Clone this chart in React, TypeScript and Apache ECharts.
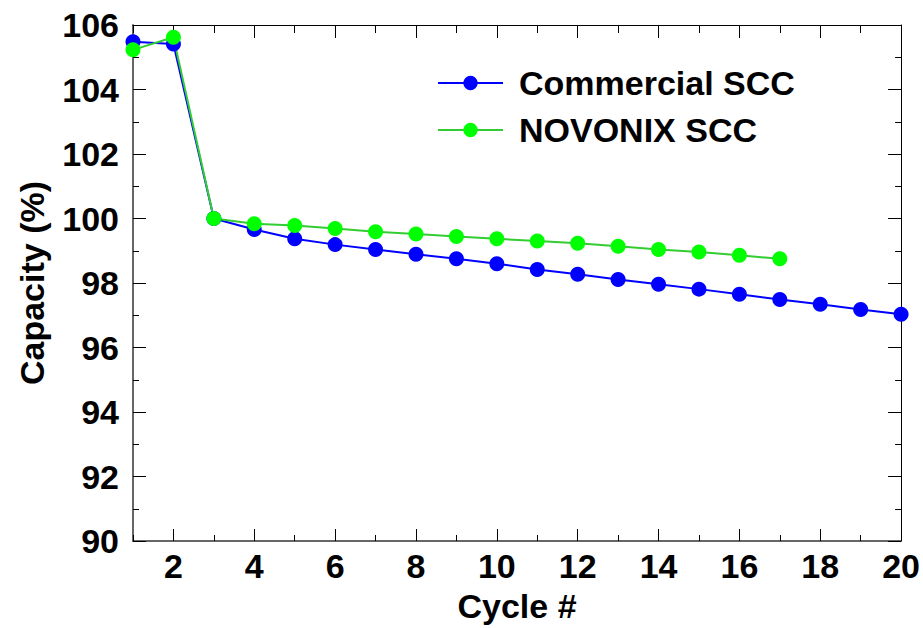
import React, { useEffect, useRef } from "react";
import * as echarts from "echarts";

const cycles = [1, 2, 3, 4, 5, 6, 7, 8, 9, 10, 11, 12, 13, 14, 15, 16, 17, 18, 19, 20];
const commercial = [105.48, 105.41, 100.0, 99.66, 99.37, 99.19, 99.04, 98.89, 98.75, 98.6, 98.42, 98.27, 98.11, 97.96, 97.81, 97.65, 97.49, 97.34, 97.18, 97.03];
const novonix = [105.23, 105.62, 100.0, 99.84, 99.78, 99.69, 99.59, 99.52, 99.44, 99.37, 99.3, 99.23, 99.14, 99.04, 98.96, 98.86, 98.75];
const xMajor = [2, 4, 6, 8, 10, 12, 14, 16, 18, 20];
const xMinor = [1, 3, 5, 7, 9, 11, 13, 15, 17, 19];
const seriesNames = ["Commercial SCC", "NOVONIX SCC"];

const FONT = "'Liberation Sans', Arial, Helvetica, sans-serif";

export default function App() {
  const ref = useRef<HTMLDivElement>(null);
  useEffect(() => {
    document.body.style.margin = "0";
    const chart = echarts.init(ref.current!, null, { renderer: "svg" });
    const xBase = (position: string, lineColor: string, lineWidth: number) => ({
      type: "value",
      position,
      min: 1,
      max: 20,
      splitLine: { show: false },
      axisLine: { show: true, onZero: false, lineStyle: { color: lineColor, width: lineWidth } },
    });
    const xAxes = [
      {
        ...xBase("bottom", "#666", 2),
        interval: 1,
        name: "Cycle #",
        nameLocation: "middle",
        nameGap: 48,
        nameTextStyle: { fontSize: 34, fontWeight: "bold", color: "#000", fontFamily: FONT },
        axisTick: { show: true, inside: true, length: 12, customValues: xMajor, lineStyle: { color: "#000", width: 1 } },
        axisLabel: { show: true, customValues: xMajor, margin: 8, fontSize: 34, fontWeight: "bold", color: "#000", fontFamily: FONT },
      },
      {
        ...xBase("bottom", "#666", 2),
        interval: 1,
        axisLine: { show: false, onZero: false },
        axisTick: { show: true, inside: true, length: 6, customValues: xMinor, lineStyle: { color: "#000", width: 1 } },
        axisLabel: { show: false },
      },
      {
        ...xBase("top", "#000", 1),
        interval: 1,
        axisTick: { show: true, inside: true, length: 13, customValues: xMajor, lineStyle: { color: "#000", width: 1 } },
        axisLabel: { show: false },
      },
      {
        ...xBase("top", "#000", 1),
        interval: 1,
        axisLine: { show: false, onZero: false },
        axisTick: { show: true, inside: true, length: 8, customValues: xMinor, lineStyle: { color: "#000", width: 1 } },
        axisLabel: { show: false },
      },
    ];
    const yAxes = [
      {
        type: "value",
        position: "left",
        min: 90,
        max: 106,
        interval: 2,
        name: "Capacity (%)",
        nameLocation: "middle",
        nameGap: 84,
        nameTextStyle: { fontSize: 34, fontWeight: "bold", color: "#000", fontFamily: FONT },
        splitLine: { show: false },
        axisLine: { show: true, onZero: false, lineStyle: { color: "#666", width: 2 } },
        axisTick: { show: true, inside: true, length: 13, lineStyle: { color: "#000", width: 1 } },
        minorTick: { show: true, splitNumber: 2, length: 6, lineStyle: { color: "#000", width: 1 } },
        axisLabel: { show: true, margin: 14, fontSize: 34, fontWeight: "bold", color: "#000", fontFamily: FONT },
      },
      {
        type: "value",
        position: "right",
        min: 90,
        max: 106,
        interval: 2,
        splitLine: { show: false },
        axisLine: { show: true, onZero: false, lineStyle: { color: "#000", width: 1 } },
        axisTick: { show: true, inside: true, length: 13, lineStyle: { color: "#000", width: 1 } },
        minorTick: { show: true, splitNumber: 2, length: 6, lineStyle: { color: "#000", width: 1 } },
        axisLabel: { show: false },
      },
    ];
    chart.setOption({
      animation: false,
      backgroundColor: "#fff",
      grid: { left: 133, right: 21, top: 25, bottom: 87, containLabel: false },
      legend: {
        data: seriesNames,
        orient: "vertical",
        left: 437,
        top: 60,
        padding: 0,
        itemGap: 1,
        itemWidth: 65,
        itemHeight: 18,
        textStyle: {
          fontSize: 34,
          fontWeight: "bold",
          color: "#000",
          fontFamily: FONT,
          lineHeight: 36,
          padding: [0, 0, 10, 11],
        },
      },
      xAxis: xAxes,
      yAxis: yAxes,
      series: [
        {
          name: seriesNames[0],
          type: "line",
          xAxisIndex: 0,
          yAxisIndex: 0,
          clip: false,
          data: commercial.map((v, i) => [cycles[i], v]),
          symbol: "circle",
          symbolSize: 15,
          itemStyle: { color: "#0000ff" },
          lineStyle: { color: "#0000ff", width: 2 },
        },
        {
          name: seriesNames[1],
          type: "line",
          xAxisIndex: 0,
          yAxisIndex: 0,
          clip: false,
          data: novonix.map((v, i) => [cycles[i], v]),
          symbol: "circle",
          symbolSize: 15,
          itemStyle: { color: "#00ff00" },
          lineStyle: { color: "#33cc33", width: 2 },
        },
      ],
    });
    return () => chart.dispose();
  }, []);
  return <div ref={ref} style={{ width: 923, height: 628 }} />;
}
